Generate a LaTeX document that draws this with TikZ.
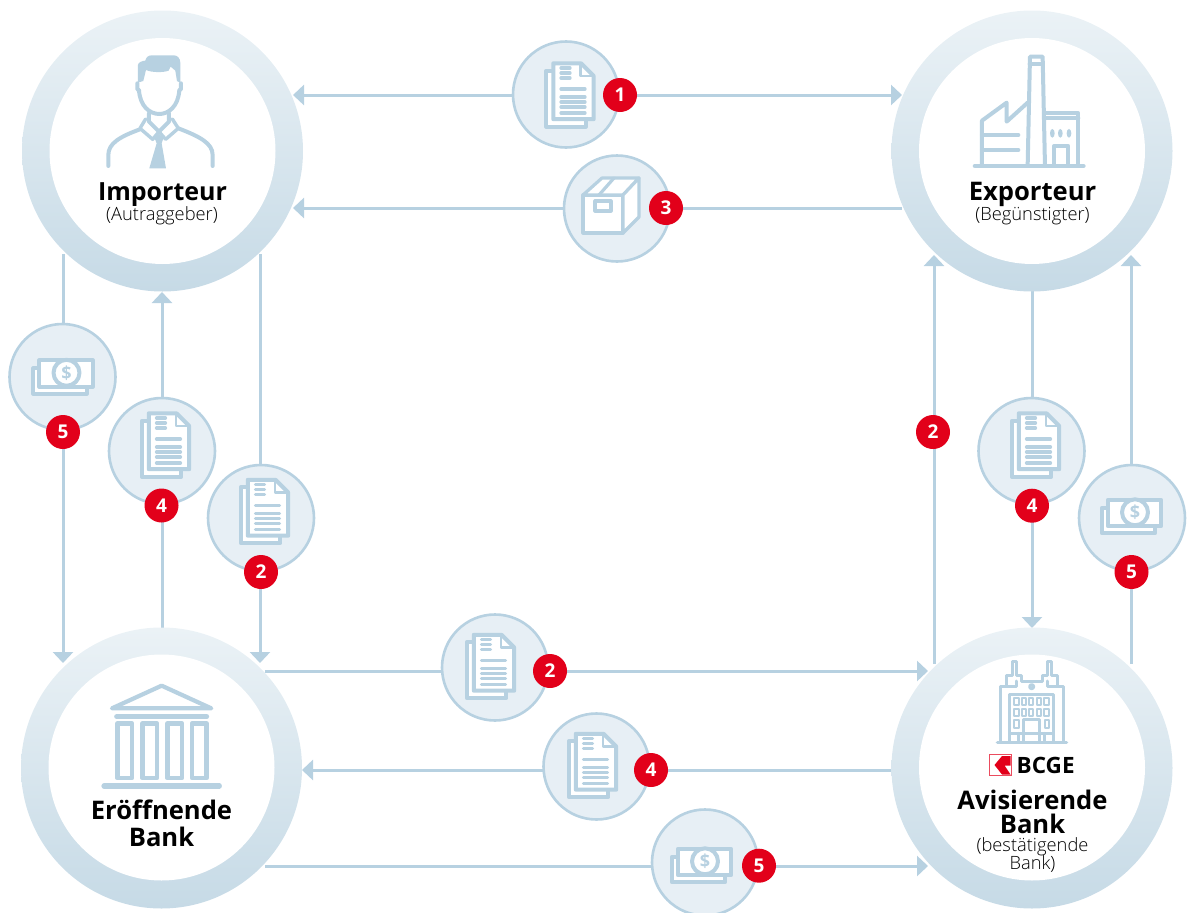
\documentclass[tikz,border=0pt]{standalone}
\usepackage{fontspec}
\setmainfont{Open Sans}
\newfontfamily\lightf{Open Sans Light}
\usetikzlibrary{arrows.meta,calc}
\definecolor{lnk}{HTML}{B7D1E1}
\definecolor{discf}{HTML}{E7EFF5}
\definecolor{ringt}{HTML}{EBF2F6}
\definecolor{ringb}{HTML}{C6DAE6}
\definecolor{badgec}{HTML}{E2001A}
\pgfdeclarelayer{lines}
\pgfsetlayers{lines,main}
\tikzset{
  x=1pt,y=-1pt,
  link/.style={draw=lnk,line width=3pt},
  arr/.style={link,-{Triangle[length=11pt,width=20pt]}},
  ring/.style={circle,minimum size=281pt,inner sep=0pt,top color=ringt,bottom color=ringb,draw=none},
  hole/.style={circle,minimum size=226pt,inner sep=0pt,fill=white},
  disc/.style={circle,minimum size=106pt,inner sep=0pt,fill=discf,draw=lnk,line width=2.6pt},
  badge/.style={circle,minimum size=34pt,inner sep=0pt,fill=badgec,text=white,font=\fontsize{19}{19}\selectfont\bfseries},
  ttl/.style={anchor=base,font=\fontsize{25.6}{25.6}\selectfont\bfseries,text=black,inner sep=0pt},
  subt/.style={anchor=base,font=\fontsize{18.3}{18.3}\selectfont\lightf,text=black,inner sep=0pt},
  ico/.style={draw=lnk,line width=4pt,line join=round,line cap=round},
  pics/docicon/.style={code={
    \draw[ico,fill=white] (-23.7,-24.2) rectangle (15.8,31.7);
    \draw[ico,fill=white] (-16.7,-31.7) -- (11,-31.7) -- (23.7,-19) -- (23.7,24.2) -- (-16.7,24.2) -- cycle;
    \draw[ico,line width=2.8pt] (10.5,-31) -- (10.5,-19) -- (23,-19);
    \foreach \yy in {-27,-22,-17} \draw[ico,line width=3.2pt] (-9,\yy) -- (0,\yy);
    \foreach \yy in {-6,2,7,12,18} \draw[ico,line width=3.2pt] (-9,\yy) -- (15,\yy);
  }},
  pics/moneyicon/.style={code={
    \draw[ico,fill=white] (-29.7,-8.7) rectangle (23.7,16.7);
    \draw[ico,fill=white] (-23.7,-16.7) rectangle (29.7,9.7);
    \draw[ico,fill=white] (3.5,-4.2) circle (13);
    \node[inner sep=0pt,text=lnk,font=\fontsize{18}{18}\selectfont\bfseries] (dollar) at (3.5,-4.2) {\$};
  }},
  pics/boxicon/.style={code={
    \draw[ico,fill=white,line width=3.2pt] (-33,-13) rectangle (7,25);
    \draw[ico,fill=white,line width=3.2pt] (-33,-13) -- (-14,-30) -- (23,-30) -- (7,-13) -- cycle;
    \draw[ico,fill=white,line width=3.2pt] (7,-13) -- (23,-30) -- (23,9) -- (7,25) -- cycle;
    \draw[ico,line width=3.2pt] (-2,-30) -- (-17,-13);
    \draw[ico,line width=3.2pt] (-21,-7) rectangle (-5,3);
  }},
}
\begin{document}
\begin{tikzpicture}
\useasboundingbox (0,0) rectangle (1187,913);
% big circles
\node[ring] (imp) at (162.5,151) {};
\node[ring] (exp) at (1032,151) {};
\node[ring] (ero) at (161.5,768) {};
\node[ring] (avi) at (1032,768) {};
\node[hole] at (162.5,151) {};
\node[hole] at (1032,151) {};
\node[hole] at (161.5,767.5) {};
\node[hole] at (1032,767.5) {};
% discs
\node[disc] (d1) at (566,94.5) {};
\node[disc] (d3) at (617,208.5) {};
\node[disc] (dL5) at (62.5,377) {};
\node[disc] (dL4) at (162,451) {};
\node[disc] (dL2) at (261,518) {};
\node[disc] (dR4) at (1031.5,451) {};
\node[disc] (dR5) at (1132,518) {};
\node[disc] (dB2) at (495,667.5) {};
\node[disc] (dB4) at (596.5,766.5) {};
\node[disc] (dB5) at (705,862.5) {};
\pic at (570,95) {docicon};
\pic at (165.5,445) {docicon};
\pic at (264.5,511.5) {docicon};
\pic at (1035.5,445) {docicon};
\pic at (490.5,666.5) {docicon};
\pic at (592.5,765.5) {docicon};
\pic at (616,208) {boxicon};
\pic at (63,377) {moneyicon};
\pic at (1131.5,516.5) {moneyicon};
\pic at (701.5,865.5) {moneyicon};
% badges
\node[badge] (b1) at (620,95) {1};
\node[badge] (b3) at (666,208) {3};
\node[badge] (bL5) at (63,432) {5};
\node[badge] (bL4) at (161.5,505.5) {4};
\node[badge] (bL2) at (261,572) {2};
\node[badge] (bR2) at (933,432) {2};
\node[badge] (bR4) at (1032,505.7) {4};
\node[badge] (bR5) at (1131.5,572) {5};
\node[badge] (bB2) at (550,671) {2};
\node[badge] (bB4) at (651,770) {4};
\node[badge] (bB5) at (759,865.7) {5};
% free ends
\coordinate (i1) at (293,95);
\coordinate (e1) at (902,95);
\coordinate (i3) at (293,208);
\coordinate (e3) at (902,208);
\coordinate (iL5) at (63,254);
\coordinate (oL5) at (63,663);
\coordinate (iL4) at (162,292);
\coordinate (oL4) at (162,630);
\coordinate (iL2) at (260,254);
\coordinate (oL2) at (260,663);
\coordinate (eR2) at (934,255);
\coordinate (aR2) at (934,664);
\coordinate (eR4) at (1032,290);
\coordinate (aR4) at (1032,628);
\coordinate (eR5) at (1131,255);
\coordinate (aR5) at (1131,664);
\coordinate (oB2) at (265,671);
\coordinate (aB2) at (928,671);
\coordinate (oB4) at (302,770);
\coordinate (aB4) at (893,770);
\coordinate (oB5) at (265,866);
\coordinate (aB5) at (928,866);
\begin{pgfonlayer}{lines}
\draw[arr] (i1 -| d1) -- (i1);
\draw[arr] (e1 -| b1) -- (e1);
\draw[arr] (i3 -| d3) -- (i3);
\draw[link] (e3 -| b3) -- (e3);
\draw[link] (iL5 |- dL5) -- (iL5);
\draw[arr] (oL5 |- bL5) -- (oL5);
\draw[arr] (iL4 |- dL4) -- (iL4);
\draw[link] (oL4 |- bL4) -- (oL4);
\draw[link] (iL2 |- dL2) -- (iL2);
\draw[arr] (oL2 |- bL2) -- (oL2);
\draw[arr] (eR2 |- bR2) -- (eR2);
\draw[link] (aR2 |- bR2) -- (aR2);
\draw[link] (eR4 |- dR4) -- (eR4);
\draw[arr] (aR4 |- bR4) -- (aR4);
\draw[arr] (eR5 |- dR5) -- (eR5);
\draw[link] (aR5 |- bR5) -- (aR5);
\draw[link] (oB2 -| bB2) -- (oB2);
\draw[arr] (aB2 -| bB2) -- (aB2);
\draw[arr] (oB4 -| bB4) -- (oB4);
\draw[link] (aB4 -| bB4) -- (aB4);
\draw[link] (oB5 -| bB5) -- (oB5);
\draw[arr] (aB5 -| bB5) -- (aB5);
\end{pgfonlayer}
% person icon (coordinates read at 3x)
\begin{scope}[x=0.3333pt,y=-0.3333pt]
\fill[lnk] (414,248) -- (414,195) .. controls (414,187) and (428,182) .. (436,182) .. controls (438,172) and (445,166) .. (455,166) -- (522,166) .. controls (533,166) and (541,176) .. (541,188) -- (541,248) -- (531,243) -- (526,212) -- (512,200) -- (506,212) .. controls (490,218) and (455,218) .. (438,210) -- (430,243) -- cycle;
\draw[ico] (412,250) -- (412,268) -- (417,270) .. controls (420,320) and (450,342) .. (478,342) .. controls (505,342) and (535,320) .. (538,270) -- (543,268) -- (543,250);
\draw[ico] (447,340) -- (447,365) -- (477,395) -- (507,365) -- (507,340);
\draw[ico,line width=3.4pt] (437,357) -- (420,385) -- (458,418) -- (477,395) -- (497,418) -- (535,385) -- (517,357);
\draw[ico] (325,498) -- (325,465) .. controls (325,430) and (360,410) .. (420,388);
\draw[ico] (638,498) -- (638,465) .. controls (638,430) and (600,410) .. (535,385);
\fill[lnk] (448,505) -- (498,505) -- (485,430) -- (490,415) -- (477,402) -- (464,415) -- (470,430) -- cycle;
\end{scope}
% factory icon
\begin{scope}[xshift=880pt,x=0.3333pt,y=-0.3333pt]
\draw[ico,line width=4.6pt] (285,498) -- (610,498);
\draw[ico] (306,498) -- (306,362) -- (380,308) -- (380,365) -- (443,308);
\draw[ico] (306,405) -- (415,405);
\draw[ico] (306,450) -- (415,450);
\draw[ico] (443,498) -- (450,170) -- (488,170) -- (495,498);
\draw[ico] (449,192) -- (489,192);
\draw[ico] (492,340) -- (595,340) -- (595,498);
\draw[ico] (495,355) -- (595,355);
\draw[ico] (522,498) -- (522,438) -- (565,438) -- (565,498);
\foreach \xx in {517,541,567} \fill[lnk] (\xx,400) ellipse (7 and 13);
\end{scope}
% bank icon
\begin{scope}[yshift=-620pt,x=0.3333pt,y=-0.3333pt]
\draw[ico,line width=4.2pt] (336,265) -- (485,197) -- (634,265) -- cycle;
\draw[ico,line width=5pt] (350,290) -- (620,290);
\foreach \xa/\xb in {352/396,427/471,502/546,576/620}
  \draw[ico,line width=4.6pt] (\xa,311) rectangle (\xb,474);
\draw[ico,line width=5.2pt] (312,498) -- (658,498);
\end{scope}
% building icon
\begin{scope}[xshift=880pt,yshift=-620pt,x=0.3333pt,y=-0.3333pt]
\begin{scope}[ico/.append style={line width=3pt}]
\draw[ico,line width=3.2pt] (352,367) -- (560,367);
\draw[ico] (362,367) -- (362,198) -- (380,198) -- (380,165) -- (398,165) -- (398,125) -- (410,125) -- (410,165) -- (425,165) -- (425,183) -- (487,183) -- (487,165) -- (502,165) -- (502,125) -- (514,125) -- (514,165) -- (533,165) -- (533,198) -- (550,198) -- (550,367);
\draw[ico] (380,198) -- (410,198) -- (410,183);
\draw[ico] (533,198) -- (502,198) -- (502,183);
\draw[ico] (455,200) circle (6);
\draw[ico] (390,225) -- (520,225) -- (520,340) -- (390,340) -- cycle;
\foreach \xx in {403,425,447,470,493} \foreach \yy in {234,266}
  \draw[ico,line width=2.1pt] (\xx,\yy) rectangle ++(13,21);
\draw[ico,line width=2.1pt] (403,299) rectangle ++(13,24);
\draw[ico,line width=2.1pt] (494,299) rectangle ++(13,24);
\draw[ico] (430,367) -- (430,300) -- (480,300) -- (480,367);
\draw[ico] (390,340) -- (390,367);
\draw[ico] (415,340) -- (415,367);
\draw[ico] (495,340) -- (495,367);
\draw[ico] (520,340) -- (520,367);
\end{scope}
\end{scope}
% logo
\draw[badgec!70!white,line width=1.2pt,fill=white] (989.8,754.6) rectangle (1011.2,775.6);
\fill[badgec] (1002,756) -- (994.5,765) -- (1002,774.5) -- (1010.5,774.5) -- (1004.5,765.5) -- (1010.5,765.5) -- (1010.5,756) -- cycle;
\node[anchor=base west,inner sep=0pt,font=\fontsize{22.5}{22.5}\selectfont\bfseries,text=black] (logot) at (1016.5,773.5) {BCGE};
% labels
\node[ttl,font=\fontsize{25}{25}\selectfont\bfseries] (timp) at (162.5,200) {Importeur};
\node[subt] (simp) at (162,220) {(Autraggeber)};
\node[ttl] (texp) at (1032.5,200) {Exporteur};
\node[subt] (sexp) at (1032.5,220) {(Begünstigter)};
\node[ttl] (tero) at (161.5,819) {Eröffnende};
\node[ttl] (tero2) at (161.5,846) {Bank};
\node[ttl] (tavi) at (1032.5,809) {Avisierende};
\node[ttl] (tavi2) at (1032.5,833) {Bank};
\node[subt] (savi) at (1032.5,851) {(bestätigende};
\node[subt] (savi2) at (1032.5,869) {Bank)};
\end{tikzpicture}
\end{document}
